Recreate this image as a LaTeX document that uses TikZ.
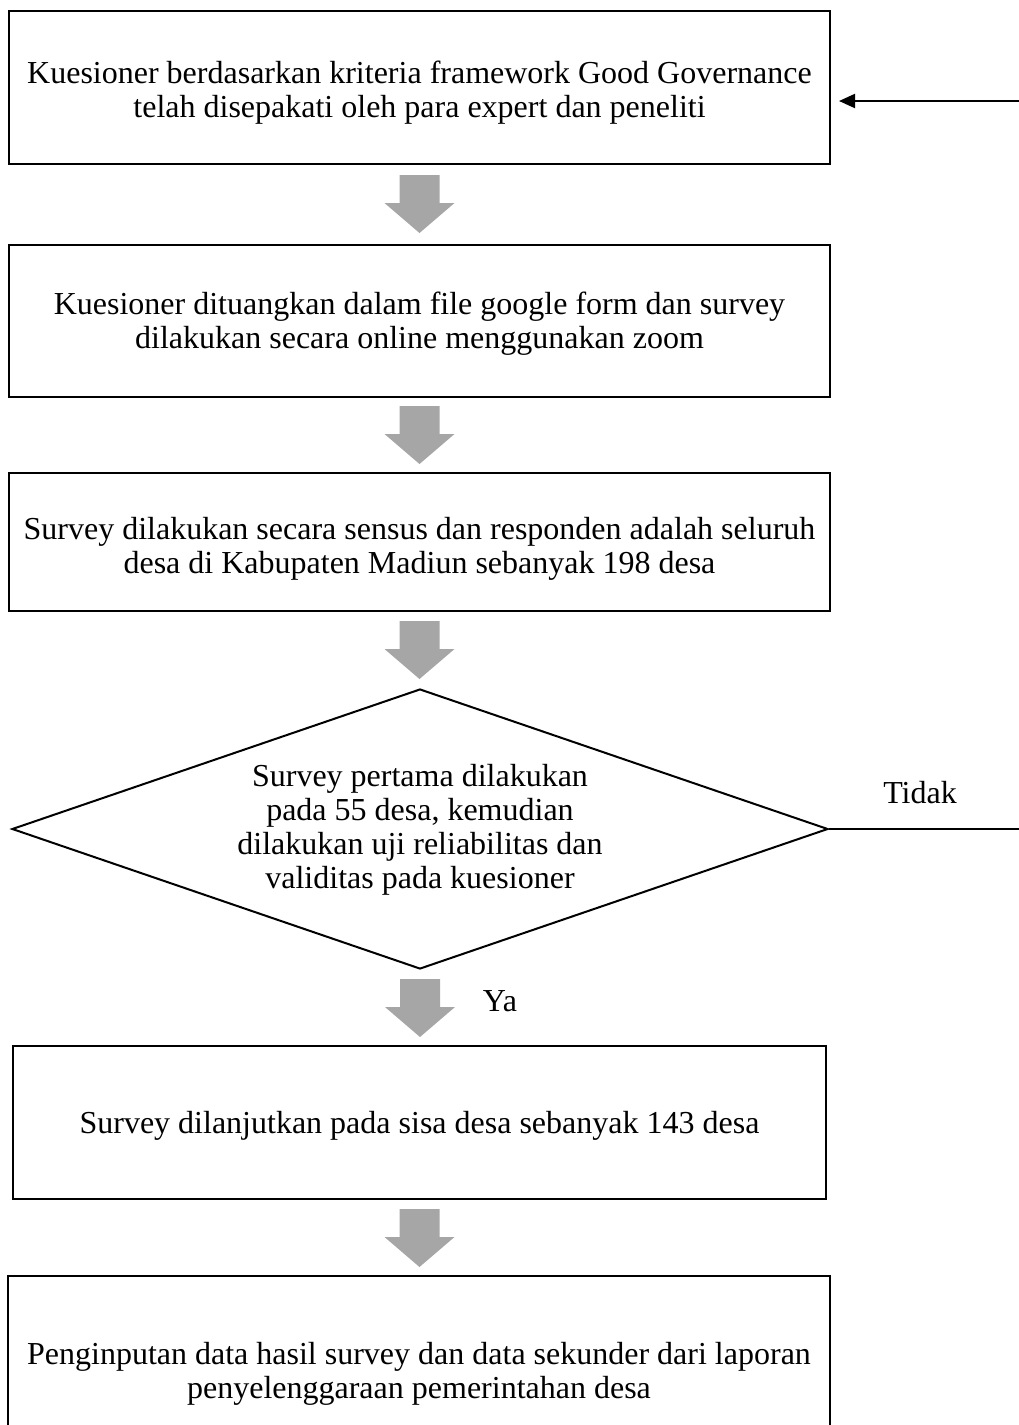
\documentclass[tikz,border=0pt]{standalone}
\usepackage{fontspec}
\setmainfont{Liberation Serif}
\usetikzlibrary{arrows.meta,shapes.geometric}
\definecolor{arrowgrey}{RGB}{166,166,166}
\newcommand\blkarrow[1]{\fill[arrowgrey] (#1) ++(-20,0) -- ++(40,0) -- ++(0,28) -- ++(15,0) -- ++(-35,30) -- ++(-35,-30) -- ++(15,0) -- cycle;}
\begin{document}
\begin{tikzpicture}[x=1pt,y=-1pt,
  box/.style={draw, line width=2pt, rectangle, inner sep=0},
  txt/.style={align=center, font=\fontsize{32}{34}\selectfont, inner sep=0},
  conn/.style={line width=2pt}]
\useasboundingbox (0,0) rectangle (1019,1425);
\node[box, minimum width=821pt, minimum height=153pt] (b1) at (419.5,87.5) {};
\node[txt] (t1) at ([yshift=-5pt]b1.center)
  {Kuesioner berdasarkan kriteria framework Good Governance\\telah disepakati oleh para expert dan peneliti};
\node[box, minimum width=821pt, minimum height=152pt] (b2) at (419.5,321) {};
\node[txt] (t2) at ([yshift=-3pt]b2.center)
  {Kuesioner dituangkan dalam file google form dan survey\\dilakukan secara online menggunakan zoom};
\node[box, minimum width=821pt, minimum height=138pt] (b3) at (419.5,542) {};
\node[txt] (t3) at ([yshift=-7pt]b3.center)
  {Survey dilakukan secara sensus dan responden adalah seluruh\\desa di Kabupaten Madiun sebanyak 198 desa};
\node[diamond, draw, line width=2pt, minimum width=816pt, minimum height=280pt, inner sep=0] (d) at (420,829) {};
\node[txt] (dt) at ([yshift=-1pt]d.center) {Survey pertama dilakukan\\pada 55 desa, kemudian\\dilakukan uji reliabilitas dan\\validitas pada kuesioner};
\node[box, minimum width=813pt, minimum height=153pt] (b5) at (419.5,1122.5) {};
\node[txt] (t5) at ([yshift=-3pt]b5.center)
  {Survey dilanjutkan pada sisa desa sebanyak 143 desa};
\node[box, minimum width=822pt, minimum height=192pt] (b6) at (419,1372) {};
\node[txt] (t6) at ([yshift=-2pt]b6.center)
  {Penginputan data hasil survey dan data sekunder dari laporan\\penyelenggaraan pemerintahan desa};
% block arrows
\coordinate (a1) at ([yshift=-10pt]b1.south);
\coordinate (a2) at ([yshift=-8pt]b2.south);
\coordinate (a3) at ([yshift=-9pt]b3.south);
\coordinate (a4) at ([yshift=-9pt]d.south);
\coordinate (a5) at ([yshift=-9pt]b5.south);
\blkarrow{a1}\blkarrow{a2}\blkarrow{a3}\blkarrow{a4}\blkarrow{a5}
% feedback
\coordinate (in) at (1019,101);
\coordinate (out) at (1019,829);
\draw[conn, -{Triangle[length=16pt,width=14pt]}] (in) -- ([xshift=8pt]b1.east |- in);
\draw[conn] (d.east) -- (out);
\node[txt] (tidak) at (920,793) {Tidak};
\node[txt] (ya) at (500,1001) {Ya};
\end{tikzpicture}
\end{document}
